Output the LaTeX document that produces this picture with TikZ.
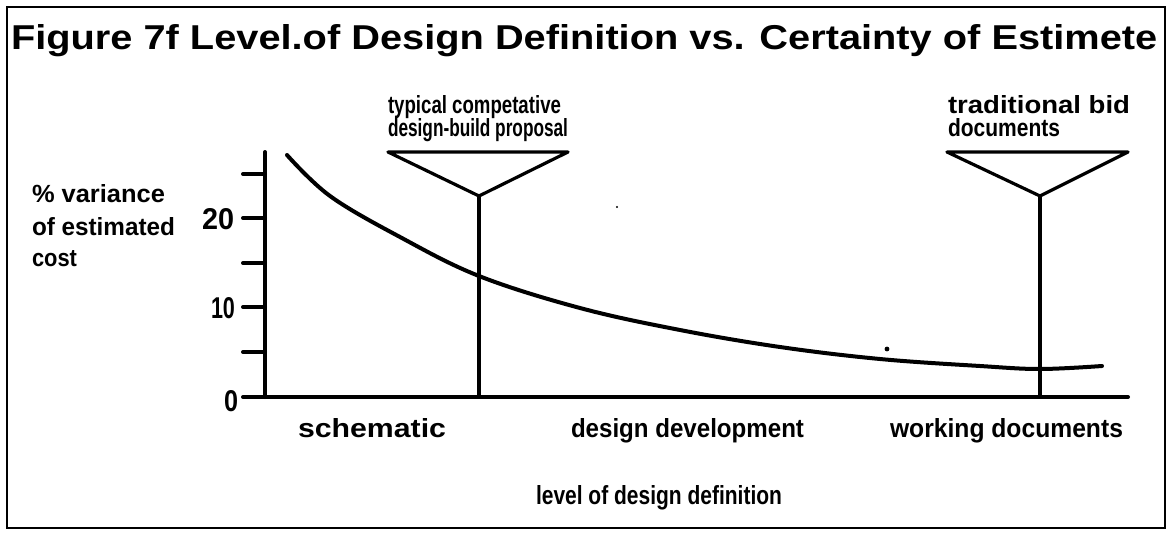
\documentclass[tikz,border=0pt]{standalone}
\usepackage{fontspec}
\setmainfont{Liberation Sans}
\usepackage{graphicx}
\newcommand\fitbox[3]{\resizebox{#1pt}{#2pt}{\bfseries #3}}
\tikzset{
  txt/.style={anchor=base west, inner sep=0pt, outer sep=0pt},
  heavy/.style={line width=4pt, line cap=round, line join=round},
  mid/.style={line width=3.2pt, line cap=round, line join=round},
  frame/.style={line width=2.4pt},
}
\begin{document}
\begin{tikzpicture}[x=1pt,y=-1pt]
\useasboundingbox (0,0) rectangle (1173,533);
\draw[frame] (7,7) rectangle (1165,528);
% title
\node[txt] (title) at (11,49) {\fitbox{1146}{25}{Figure 7f Level.of Design Definition vs. Certainty of Estimete}};
% y label
\node[txt] (yl1) at (32,202) {\fitbox{133}{18}{\% variance}};
\node[txt] (yl2) at (32,235) {\fitbox{143}{18}{of estimated}};
\node[txt] (yl3) at (32,266) {\fitbox{45}{16}{cost}};
% tick labels
\node[txt] (t20) at (202,229) {\fitbox{32}{21}{20}};
\node[txt] (t10) at (211,318) {\fitbox{24}{21}{10}};
\node[txt] (t0) at (224,411) {\fitbox{14}{21}{0}};
% axes
\coordinate (ytop) at (265,152);
\coordinate (orig) at (265,397);
\coordinate (xend) at (1128,397);
\coordinate (xstart) at (243,397);
\draw[heavy] (ytop) -- (orig);
\draw[heavy] (xstart) -- (xend);
\foreach \y/\n in {174/a,218/b,263/c,307/d,352/e} {
  \coordinate (tk\n) at (243,\y);
  \coordinate (ta\n) at (265,\y);
  \draw[heavy] (tk\n) -- (ta\n);
}
% curve
\draw[heavy] plot[smooth, tension=0.6] coordinates {(287,155) (330,196) (400,237) (479,276) (580,308) (680,330) (780,347) (880,359) (980,366) (1040,369) (1102,366)};
\fill (887,349) circle (2.4pt);
\fill (617,207) circle (1.2pt);
% marker 1
\node[txt] (m1a) at (388,113) {\fitbox{173}{18}{typical competative}};
\node[txt] (m1b) at (388,136) {\fitbox{180}{18}{design-build proposal}};
\coordinate (m1l) at (388,152);
\coordinate (m1r) at (568,152);
\coordinate (m1v) at (479,196);
\coordinate (m1f) at (479,397);
\draw[mid] (m1l) -- (m1r) -- (m1v) -- cycle;
\draw[mid] (m1v) -- (m1f);
% marker 2
\node[txt] (m2a) at (948,113) {\fitbox{182}{18}{traditional bid}};
\node[txt] (m2b) at (948,136) {\fitbox{112}{18}{documents}};
\coordinate (m2l) at (947,152);
\coordinate (m2r) at (1128,152);
\coordinate (m2v) at (1040,196);
\coordinate (m2f) at (1040,397);
\draw[mid] (m2l) -- (m2r) -- (m2v) -- cycle;
\draw[mid] (m2v) -- (m2f);
% x labels
\node[txt] (xa) at (298,437) {\fitbox{148}{19}{schematic}};
\node[txt] (xb) at (571,437) {\fitbox{233}{19}{design development}};
\node[txt] (xc) at (890,437) {\fitbox{233}{19}{working documents}};
\node[txt] (xt) at (536,504) {\fitbox{246}{19}{level of design definition}};
\end{tikzpicture}
\end{document}
